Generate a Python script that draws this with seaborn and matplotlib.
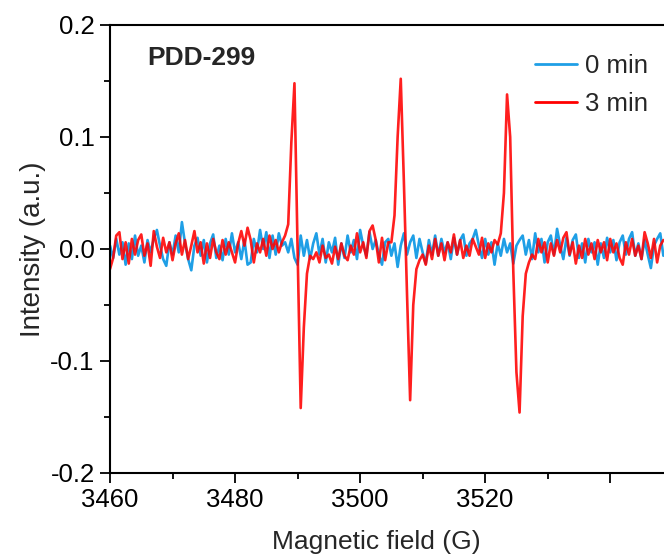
import numpy as np
import pandas as pd
import matplotlib
matplotlib.use("Agg")
import matplotlib.pyplot as plt
import seaborn as sns

# ---- data (magnetic field grid in G, intensities in a.u. x 1000) ----
field_start = 3460.0
field_step = 0.5

blue_milli = [
    3, -8, 9, -5, 6, -14, 5, -9, 12, -6, 3, -12, 8, -3, 9, 17, 3, -9, -15, 6,
    -5, 12, -3, 24, 5, -9, -19, 3, 10, -6, 8, -12, 5, 13, -8, 3, -10, 9, -5, 14,
    -3, 6, -9, 8, -14, -12, 9, -3, 17, 0, 15, -8, 12, -5, 14, 3, 6, -3, 9, -8,
    -14, 12, -6, 8, -9, 5, 14, -5, 9, -12, 6, -3, 10, -14, 5, -8, 12, -3, 8, -9,
    17, 3, -6, 15, 0, 8, -5, -14, 6, 9, -6, 5, -16, 3, 14, -5, 6, 12, -8, 9,
    -3, -13, 8, -5, 12, -6, 9, -3, 6, -9, 10, -5, 8, 13, -6, 5, 9, 17, 3, -8,
    9, -5, 6, -14, 5, -6, 9, -3, 5, -13, 3, 8, 12, -5, 8, -9, 14, -3, 9, -12,
    6, 12, -5, 18, 3, -9, 10, -6, 8, 13, -8, 5, -12, 9, -3, 6, -14, 5, -8, 10,
    -3, 8, -10, 6, 12, -5, 9, 15, -6, 5, -9, 8, -5, -17, 3, 9, 14, -6,
]

red_milli = [
    -18, -8, 12, 15, -9, 6, -13, 9, -5, 8, 13, -6, 5, -15, 16, 2, -8, 10, -3, 6,
    -10, 5, 14, -5, 8, -9, 3, 16, -3, 6, -13, 5, -8, 9, -3, -9, 8, -5, 6, -3,
    -12, 5, 16, 3, 19, 8, -12, 5, -3, 9, -6, 12, 0, 8, -3, 6, 12, 22, 95, 148,
    0, -142, -70, -22, -6, -9, -3, -12, 3, -8, -5, -13, 2, -9, 5, -6, -10, 3, -5, 14,
    -3, 6, -8, 16, 21, 8, -12, 10, -10, 6, 6, 30, 100, 152, 60, -40, -135, -50, -18, -10,
    -5, -14, 3, -9, 9, -6, 5, -10, 6, -3, 13, -5, 8, -8, 3, -6, 9, 2, -5, 10,
    -8, 5, -3, 8, 4, 14, 50, 138, 100, -20, -110, -146, -60, -22, -12, -5, -9, 9, -3, 6,
    -12, 5, -6, 8, -3, 10, 15, -5, 6, -13, 3, -8, 9, -5, 5, -9, 8, -3, 6, -10,
    9, -3, 5, -8, -14, 6, -5, 9, -6, 3, -9, 15, 5, -8, 9, -12, 3, 8,
]

series_names = ["0 min", "3 min"]
series_colors = ["#1f9fe6", "#ff0000"]
x_ticks = [3460, 3480, 3500, 3520, 3540]
x_tick_labels = ["3460", "3480", "3500", "3520", ""]
y_ticks = [-0.2, -0.1, 0.0, 0.1, 0.2]
y_tick_labels = ["-0.2", "-0.1", "0.0", "0.1", "0.2"]
sample_label = "PDD-299"

field_blue = field_start + field_step * np.arange(len(blue_milli))
field_red = field_start + field_step * np.arange(len(red_milli))

df = pd.concat([
    pd.DataFrame({"field": field_blue, "intensity": np.array(blue_milli) / 1000.0,
                  "series": series_names[0]}),
    pd.DataFrame({"field": field_red, "intensity": np.array(red_milli) / 1000.0,
                  "series": series_names[1]}),
], ignore_index=True)

# ---- style ----
sns.set_style("ticks")
plt.rcParams["font.family"] = ["Liberation Sans", "DejaVu Sans"]

fig = plt.figure(figsize=(6.64, 5.56), dpi=100)
W, H = 664, 556
ax = fig.add_axes([110 / W, (H - 473) / H, (W - 110) / W, 448 / H])

sns.lineplot(data=df, x="field", y="intensity", hue="series",
             hue_order=series_names, palette=series_colors,
             linewidth=1.9, ax=ax, estimator=None, sort=False)
for ln in ax.lines[1:2]:
    ln.set_alpha(0.88)

ax.set_xlim(3460, 3548.6)
ax.set_ylim(-0.2, 0.2)
ax.set_xticks(x_ticks)
ax.set_xticklabels(x_tick_labels)
ax.set_xticks([3470, 3490, 3510, 3530], minor=True)
ax.set_yticks(y_ticks)
ax.set_yticklabels(y_tick_labels)
ax.set_yticks([-0.15, -0.05, 0.05, 0.15], minor=True)

ax.tick_params(axis="both", which="major", direction="out", length=7,
               width=1.3, labelsize=18.5, color="black", labelcolor="black", pad=4)
ax.tick_params(axis="both", which="minor", direction="out", length=4,
               width=1.3, color="black")

for side in ["left", "bottom", "top"]:
    ax.spines[side].set_visible(True)
    ax.spines[side].set_linewidth(1.5)
    ax.spines[side].set_color("black")
ax.spines["right"].set_visible(False)

ax.set_xlabel("Magnetic field (G)", fontsize=19)
ax.set_ylabel("Intensity (a.u.)", fontsize=20)
ax.xaxis.set_label_coords((376 - 110) / 554, (473 - 530) / 448)
ax.yaxis.set_label_coords((46 - 110) / 554, 0.5)

ax.text(0.068, 0.926, sample_label, transform=ax.transAxes, fontsize=19,
        fontweight="bold", ha="left", va="center")

leg = ax.legend(loc="upper right", bbox_to_anchor=(0.99, 0.958), frameon=False,
                fontsize=18.5, handlelength=1.65, handletextpad=0.3,
                labelspacing=0.53, borderaxespad=0.0)
for h in leg.get_lines():
    h.set_linewidth(2.0)
    h.set_alpha(1.0)

fig.savefig("out.png", dpi=100)
